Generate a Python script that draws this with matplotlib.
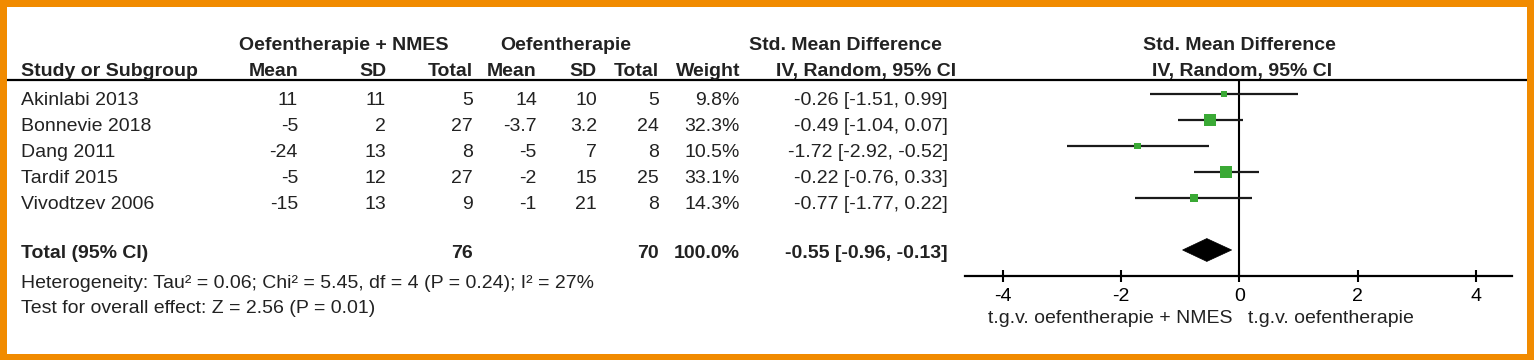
import matplotlib
matplotlib.use('Agg')
import matplotlib.pyplot as plt
from matplotlib.patches import Rectangle, Polygon
import numpy as np

# ---------------- data ----------------
studies = ["Akinlabi 2013", "Bonnevie 2018", "Dang 2011", "Tardif 2015", "Vivodtzev 2006"]
exp_mean = [11, -5, -24, -5, -15]
exp_sd = [11, 2, 13, 12, 13]
exp_n = [5, 27, 8, 27, 9]
ctl_mean = [14, -3.7, -5, -2, -1]
ctl_sd = [10, 3.2, 7, 15, 21]
ctl_n = [5, 24, 8, 25, 8]
weight = [9.8, 32.3, 10.5, 33.1, 14.3]
smd = [-0.26, -0.49, -1.72, -0.22, -0.77]
ci_lo = [-1.51, -1.04, -2.92, -0.76, -1.77]
ci_hi = [0.99, 0.07, -0.52, 0.33, 0.22]
total_label = "Total (95% CI)"
total_exp_n = 76
total_ctl_n = 70
total_weight = 100.0
total_smd = -0.55
total_lo = -0.96
total_hi = -0.13
xticks = [-4, -2, 0, 2, 4]
heterogeneity = "Heterogeneity: Tau² = 0.06; Chi² = 5.45, df = 4 (P = 0.24); I² = 27%"
overall = "Test for overall effect: Z = 2.56 (P = 0.01)"
left_label = "t.g.v. oefentherapie + NMES"
right_label = "t.g.v. oefentherapie"
exp_group = "Oefentherapie + NMES"
ctl_group = "Oefentherapie"
effect_hdr1 = "Std. Mean Difference"
effect_hdr2 = "IV, Random, 95% CI"

# ---------------- style ----------------
W, H = 1534, 360
FONT = "Liberation Sans"
FS = 14
TXT = "#222222"
GREEN = "#3aa935"
ORANGE = "#F18B00"
plt.rcParams['font.family'] = [FONT, 'DejaVu Sans']

fig = plt.figure(figsize=(W / 100, H / 100), dpi=100)
fig.patch.set_facecolor('white')

# overlay axes in pixel coordinates for the table text
at = fig.add_axes([0, 0, 1, 1])
at.set_xlim(0, W)
at.set_ylim(H, 0)
at.axis('off')
at.set_zorder(0)

def t(x, y, s, ha='left', bold=False, size=FS):
    at.text(x, y, s, ha=ha, va='baseline', fontsize=size, color=TXT,
            fontweight='bold' if bold else 'normal')

# orange frame
for (x0, y0, w, h) in [(0, 0, 7, H), (1527, 0, 7, H), (0, 0, W, 6.5), (0, 354, W, 6)]:
    at.add_patch(Rectangle((x0, y0), w, h, facecolor=ORANGE, edgecolor='none'))

# column anchors (right edges)
c_name = 21
c_em, c_esd, c_en = 298, 386, 473
c_cm, c_csd, c_cn = 537, 597, 659
c_w = 740
c_ci = 948

# headers
t(344, 50, exp_group, ha='center', bold=True)
t(566, 50, ctl_group, ha='center', bold=True)
t(845.5, 50, effect_hdr1, ha='center', bold=True)
t(1239, 50, effect_hdr1, ha='center', bold=True)
row2 = 76
t(c_name, row2, "Study or Subgroup", bold=True)
t(c_em, row2, "Mean", ha='right', bold=True)
t(c_esd, row2, "SD", ha='right', bold=True)
t(c_en, row2, "Total", ha='right', bold=True)
t(c_cm, row2, "Mean", ha='right', bold=True)
t(c_csd, row2, "SD", ha='right', bold=True)
t(c_cn, row2, "Total", ha='right', bold=True)
t(c_w, row2, "Weight", ha='right', bold=True)
t(866.5, row2, effect_hdr2, ha='center', bold=True)
t(1242, row2, effect_hdr2, ha='center', bold=True)
at.plot([7, 1527], [80, 80], color='black', lw=1.6, solid_capstyle='butt')

# study rows
for i, name in enumerate(studies):
    yb = 105 + 26 * i
    t(c_name, yb, name)
    t(c_em, yb, f"{exp_mean[i]:g}", ha='right')
    t(c_esd, yb, f"{exp_sd[i]:g}", ha='right')
    t(c_en, yb, f"{exp_n[i]:g}", ha='right')
    t(c_cm, yb, f"{ctl_mean[i]:g}", ha='right')
    t(c_csd, yb, f"{ctl_sd[i]:g}", ha='right')
    t(c_cn, yb, f"{ctl_n[i]:g}", ha='right')
    t(c_w, yb, f"{weight[i]:.1f}%", ha='right')
    t(c_ci, yb, f"{smd[i]:.2f} [{ci_lo[i]:.2f}, {ci_hi[i]:.2f}]", ha='right')

# total row
yb = 258.5
t(c_name, yb, total_label, bold=True)
t(c_en, yb, f"{total_exp_n}", ha='right', bold=True)
t(c_cn, yb, f"{total_ctl_n}", ha='right', bold=True)
t(c_w, yb, f"{total_weight:.1f}%", ha='right', bold=True)
t(c_ci, yb, f"{total_smd:.2f} [{total_lo:.2f}, {total_hi:.2f}]", ha='right', bold=True)
t(c_name, 288.5, heterogeneity)
t(c_name, 313, overall)

# ---------------- forest plot ----------------
ax = fig.add_axes([965.5 / W, 1 - 276 / H, (1512 - 965.5) / W, (276 - 80) / H])
ax.set_zorder(1)
ax.patch.set_alpha(0)
ax.set_xlim(-4.63, 4.61)
ax.set_ylim(7.0, -0.538)
for s in ['top', 'left', 'right']:
    ax.spines[s].set_visible(False)
ax.spines['bottom'].set_linewidth(1.6)
ax.set_yticks([])
ax.set_xticks(xticks)
ax.set_xticklabels([f"{v:g}" for v in xticks])
ax.tick_params(axis='x', direction='inout', length=8, width=1.5, pad=4.5,
               labelsize=FS, labelcolor='black')

ax.axvline(0, color='black', lw=1.5, zorder=2)
ypos = np.arange(len(studies))
ax.hlines(ypos, ci_lo, ci_hi, color='#1a1a1a', lw=1.6, zorder=3)
sides_pt = [2.1 * np.sqrt(w) * 0.72 for w in weight]
ax.scatter(smd, ypos, marker='s', s=[sp ** 2 for sp in sides_pt],
           color=GREEN, edgecolors='none', zorder=4)
ty = 6.0
hh = 0.44
ax.add_patch(Polygon([[total_lo, ty], [total_smd, ty - hh], [total_hi, ty], [total_smd, ty + hh]],
                     closed=True, facecolor='black', edgecolor='black', lw=0.5, zorder=4))

# direction labels
t(1233, 323, left_label, ha='right')
t(1248, 323, right_label, ha='left')

fig.savefig('out.png', dpi=100, facecolor='white')
